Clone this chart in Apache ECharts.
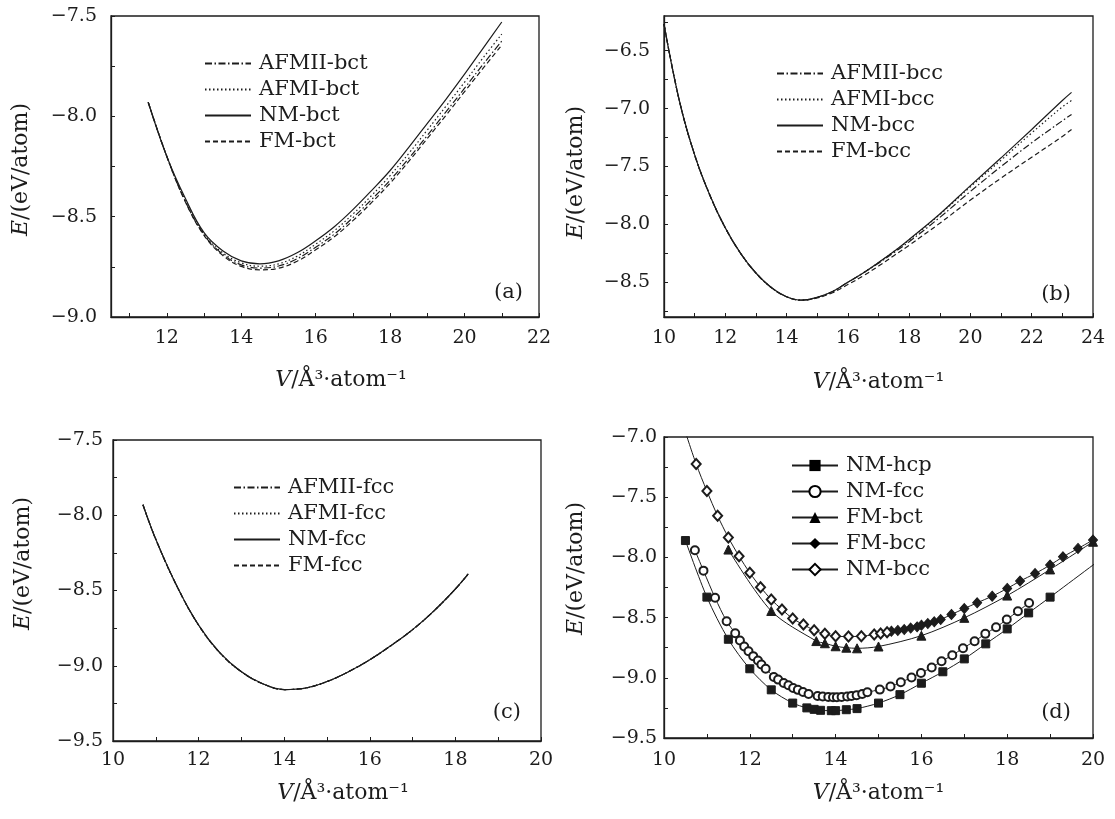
<!DOCTYPE html>
<html>
<head>
<meta charset="utf-8">
<script src="https://cdn.jsdelivr.net/npm/echarts@6/dist/echarts.min.js"></script>
<style>
  html, body { margin: 0; padding: 0; background: #fff; }
  .panel { position: absolute; left: 0; top: 0; width: 1115px; height: 819px; }
</style>
</head>
<body>
<div id="pa" class="panel"></div>
<div id="pb" class="panel"></div>
<div id="pc" class="panel"></div>
<div id="pd" class="panel"></div>
<script>
// ---- (a) bct ----
const aV = [11.5, 12, 12.5, 13, 13.5, 14, 14.5, 15, 15.5, 16, 16.5, 17, 17.5, 18, 18.5, 19, 19.5, 20, 20.5, 21];
const aAFMII = [-7.93, -8.20, -8.425, -8.59, -8.687, -8.74, -8.756, -8.746, -8.71, -8.652, -8.587, -8.505, -8.415, -8.318, -8.21, -8.095, -7.978, -7.86, -7.74, -7.625];
const aAFMI = [-7.93, -8.20, -8.422, -8.585, -8.68, -8.73, -8.747, -8.735, -8.697, -8.637, -8.57, -8.487, -8.395, -8.295, -8.185, -8.068, -7.95, -7.83, -7.708, -7.59];
const aNM = [-7.93, -8.20, -8.41, -8.58, -8.67, -8.72, -8.735, -8.72, -8.68, -8.62, -8.55, -8.465, -8.37, -8.27, -8.155, -8.035, -7.915, -7.79, -7.66, -7.53];
const aFM = [-7.93, -8.20, -8.427, -8.593, -8.693, -8.748, -8.765, -8.757, -8.722, -8.665, -8.6, -8.52, -8.43, -8.333, -8.225, -8.11, -7.995, -7.877, -7.76, -7.645];
const aXTicks = [11, 12, 13, 14, 15, 16, 17, 18, 19, 20, 21, 22];
const aXLabels = [12, 14, 16, 18, 20, 22];
const aYTicks = [-9, -8.75, -8.5, -8.25, -8, -7.75, -7.5];
const aYLabels = [-9, -8.5, -8, -7.5];

// ---- (b) bcc ----
const bV = [10, 10.5, 11, 11.5, 12, 12.5, 13, 13.5, 14, 14.5, 15, 15.5, 16, 16.5, 17, 17.5, 18, 19, 20, 21, 22, 23, 23.3];
const bAFMII = [-6.27, -6.93, -7.40, -7.75, -8.03, -8.25, -8.42, -8.545, -8.625, -8.655, -8.63, -8.58, -8.50, -8.42, -8.335, -8.245, -8.15, -7.94, -7.715, -7.50, -7.295, -7.105, -7.05];
const bAFMI = [-6.27, -6.93, -7.40, -7.75, -8.03, -8.25, -8.42, -8.545, -8.625, -8.655, -8.63, -8.58, -8.50, -8.42, -8.33, -8.235, -8.135, -7.915, -7.675, -7.445, -7.21, -6.985, -6.93];
const bNM = [-6.27, -6.93, -7.40, -7.75, -8.03, -8.25, -8.42, -8.545, -8.625, -8.655, -8.63, -8.58, -8.50, -8.42, -8.33, -8.235, -8.13, -7.91, -7.665, -7.425, -7.18, -6.93, -6.86];
const bFM = [-6.27, -6.93, -7.40, -7.75, -8.03, -8.25, -8.42, -8.545, -8.625, -8.655, -8.635, -8.59, -8.52, -8.445, -8.36, -8.27, -8.18, -7.99, -7.79, -7.60, -7.42, -7.24, -7.18];
const bXTicks = [10, 11, 12, 13, 14, 15, 16, 17, 18, 19, 20, 21, 22, 23, 24];
const bXLabels = [10, 12, 14, 16, 18, 20, 22, 24];
const bYTicks = [-8.75, -8.5, -8.25, -8, -7.75, -7.5, -7.25, -7, -6.75, -6.5, -6.25];
const bYLabels = [-8.5, -8, -7.5, -7, -6.5];

// ---- (c) fcc: the four magnetic states coincide ----
const cV = [10.7, 11, 11.5, 12, 12.5, 13, 13.5, 14, 14.5, 15, 15.5, 16, 16.5, 17, 17.5, 18, 18.3];
const cE = [-7.93, -8.16, -8.475, -8.73, -8.915, -9.04, -9.12, -9.158, -9.148, -9.105, -9.04, -8.96, -8.865, -8.76, -8.635, -8.49, -8.39];
const cXTicks = [10, 11, 12, 13, 14, 15, 16, 17, 18, 19, 20];
const cXLabels = [10, 12, 14, 16, 18, 20];
const cYTicks = [-9.5, -9.25, -9, -8.75, -8.5, -8.25, -8, -7.75, -7.5];
const cYLabels = [-9.5, -9, -8.5, -8, -7.5];

// ---- (d) lowest-energy states ----
const dHcpV = [10.5, 11, 11.5, 12, 12.5, 13, 13.33, 13.5, 13.65, 13.9, 14, 14.25, 14.5, 15, 15.5, 16, 16.5, 17, 17.5, 18, 18.5, 19, 20.5];
const dHcpE = [-7.86, -8.33, -8.68, -8.925, -9.1, -9.21, -9.25, -9.262, -9.27, -9.273, -9.273, -9.265, -9.256, -9.21, -9.14, -9.045, -8.95, -8.843, -8.718, -8.594, -8.461, -8.33, -7.93];
const dFccV = [10.72, 10.92, 11.19, 11.46, 11.66, 11.77, 11.87, 11.97, 12.08, 12.19, 12.27, 12.37, 12.56, 12.66, 12.79, 12.9, 13.01, 13.12, 13.24, 13.37, 13.58, 13.7, 13.83, 13.94, 14.03, 14.14, 14.27, 14.37, 14.49, 14.62, 14.74, 15.03, 15.28, 15.52, 15.77, 15.99, 16.24, 16.47, 16.72, 16.97, 17.24, 17.49, 17.74, 17.99, 18.25, 18.51];
const dFccE = [-7.94, -8.11, -8.335, -8.53, -8.63, -8.69, -8.74, -8.78, -8.82, -8.857, -8.89, -8.925, -8.993, -9.015, -9.043, -9.062, -9.084, -9.1, -9.118, -9.134, -9.151, -9.156, -9.159, -9.162, -9.162, -9.16, -9.156, -9.151, -9.145, -9.134, -9.12, -9.098, -9.073, -9.037, -8.998, -8.96, -8.915, -8.862, -8.813, -8.754, -8.696, -8.635, -8.58, -8.516, -8.447, -8.378];
const dBctV = [11.5, 12.5, 13.55, 13.75, 14, 14.25, 14.5, 15, 16, 17, 18, 19, 20];
const dBctE = [-7.935, -8.445, -8.695, -8.713, -8.738, -8.75, -8.755, -8.74, -8.65, -8.502, -8.317, -8.1, -7.87];
const dFmBccV = [15.3, 15.45, 15.6, 15.75, 15.9, 16.0, 16.15, 16.3, 16.45, 16.7, 17.0, 17.3, 17.65, 18.0, 18.3, 18.65, 19.0, 19.3, 19.65, 20.0];
const dFmBccE = [-8.613, -8.607, -8.599, -8.587, -8.577, -8.563, -8.55, -8.535, -8.516, -8.474, -8.425, -8.377, -8.322, -8.258, -8.197, -8.134, -8.064, -7.995, -7.926, -7.856];
const dNmBccV = [10.5, 10.75, 11, 11.25, 11.5, 11.75, 12, 12.25, 12.5, 12.75, 13, 13.25, 13.5, 13.75, 14, 14.3, 14.6, 14.9, 15.05, 15.2];
const dNmBccE = [-6.96, -7.225, -7.449, -7.655, -7.835, -7.99, -8.128, -8.247, -8.35, -8.433, -8.508, -8.558, -8.605, -8.635, -8.655, -8.657, -8.655, -8.641, -8.632, -8.621];
const dXTicks = [10, 11, 12, 13, 14, 15, 16, 17, 18, 19, 20];
const dXLabels = [10, 12, 14, 16, 18, 20];
const dYTicks = [-9.5, -9.25, -9, -8.75, -8.5, -8.25, -8, -7.75, -7.5, -7.25, -7];
const dYLabels = [-9.5, -9, -8.5, -8, -7.5, -7];

const FONT = 'DejaVu Serif';
const INK = '#1c1c1c';
const DASHDOT = [7, 2.5, 1.5, 2.5];
const DOTTED = [1.5, 2.5];
const DASHED = [5, 3];

const pairs = (xs, ys) => xs.map((x, i) => [x, ys[i]]);
const minus = (v) => v.toFixed(1).replace('-', '\u2212');

function axes(p) {
  const nameStyle = {
    color: INK, fontFamily: FONT, fontSize: 22,
    rich: { i: { fontStyle: 'italic', fontFamily: FONT, fontSize: 22, color: INK } }
  };
  const xAxis = {
    type: 'value', min: p.xMin, max: p.xMax,
    axisLine: { show: true, onZero: false, lineStyle: { color: INK, width: 1.3 } },
    axisTick: { show: true, inside: true, length: 4, customValues: p.xTicks, lineStyle: { color: INK, width: 1 } },
    axisLabel: { customValues: p.xLabels, margin: p.xMargin, color: INK, fontFamily: FONT, fontSize: 19 },
    splitLine: { show: false },
    name: '{i|V}/Å³·atom⁻¹',
    nameLocation: 'middle', nameGap: p.xNameGap, nameMoveOverlap: false,
    nameTextStyle: Object.assign({}, nameStyle, { padding: [0, 0, 0, p.xShift] })
  };
  const yAxis = {
    type: 'value', min: p.yMin, max: p.yMax,
    axisLine: { show: true, onZero: false, lineStyle: { color: INK, width: 1.3 } },
    axisTick: { show: true, inside: true, length: 4, customValues: p.yTicks, lineStyle: { color: INK, width: 1 } },
    axisLabel: { customValues: p.yLabels, margin: p.yMargin, color: INK, fontFamily: FONT, fontSize: 19, formatter: minus },
    splitLine: { show: false },
    name: '{i|E}/(eV/atom)',
    nameLocation: 'middle', nameGap: p.yNameGap, nameMoveOverlap: false,
    nameTextStyle: Object.assign({}, nameStyle, { padding: p.yPad })
  };
  return { xAxis, yAxis };
}

function curve(name, xs, ys, dash) {
  return {
    name, type: 'line', data: pairs(xs, ys), symbol: 'none', smooth: 0.4,
    lineStyle: { color: INK, width: 1.2, type: dash || 'solid' },
    itemStyle: { color: INK }
  };
}

function marked(name, xs, ys, symbol, size) {
  return {
    name, type: 'line', data: pairs(xs, ys), symbol, symbolSize: size, smooth: 0.3,
    lineStyle: { color: INK, width: 1 },
    itemStyle: { color: INK, borderColor: INK, borderWidth: 1 }
  };
}

function legend(p, names, hideIcon) {
  return {
    left: p.legLeft, top: p.legTop, orient: 'vertical', padding: 0,
    itemGap: 5, itemWidth: 46, itemHeight: 14,
    data: names,
    itemStyle: hideIcon ? { opacity: 0 } : undefined,
    textStyle: { color: INK, fontFamily: FONT, fontSize: 21, lineHeight: 20, padding: [0, 0, 0, 3] },
    selectedMode: false
  };
}

function panel(id, p, series, legendNames, hideIcon) {
  const chart = echarts.init(document.getElementById(id));
  const ax = axes(p);
  chart.setOption({
    animation: false,
    backgroundColor: 'transparent',
    grid: {
      left: p.left, top: p.top, width: p.width, height: p.height,
      show: true, borderColor: INK, borderWidth: 1.3, backgroundColor: 'transparent',
      containLabel: false, outerBoundsMode: 'none'
    },
    xAxis: ax.xAxis,
    yAxis: ax.yAxis,
    legend: legend(p, legendNames, hideIcon),
    graphic: [{
      type: 'text', x: p.tagX, y: p.tagY,
      style: { text: p.tag, fill: INK, font: '21px "DejaVu Serif"', align: 'right', verticalAlign: 'middle' }
    }],
    series
  });
}

panel('pa', {
  left: 111, top: 16, width: 428, height: 301,
  xMin: 10.5, xMax: 22, yMin: -9, yMax: -7.5,
  xTicks: aXTicks, xLabels: aXLabels, yTicks: aYTicks, yLabels: aYLabels,
  xMargin: 12, yMargin: 14, xNameGap: 52, yNameGap: 79, xShift: 32, yPad: [0, 6, 0, 0],
  legLeft: 204, legTop: 53, tag: '(a)', tagX: 523, tagY: 293
}, [
  curve('AFMII-bct', aV, aAFMII, DASHDOT),
  curve('AFMI-bct', aV, aAFMI, DOTTED),
  curve('NM-bct', aV, aNM),
  curve('FM-bct', aV, aFM, DASHED)
], ['AFMII-bct', 'AFMI-bct', 'NM-bct', 'FM-bct'], true);

panel('pb', {
  left: 664, top: 16, width: 429, height: 301,
  xMin: 10, xMax: 24, yMin: -8.8, yMax: -6.2,
  xTicks: bXTicks, xLabels: bXLabels, yTicks: bYTicks, yLabels: bYLabels,
  xMargin: 12, yMargin: 14, xNameGap: 54, yNameGap: 77, xShift: 0, yPad: [0, 12, 0, 0],
  legLeft: 776, legTop: 63, tag: '(b)', tagX: 1071, tagY: 295
}, [
  curve('AFMII-bcc', bV, bAFMII, DASHDOT),
  curve('AFMI-bcc', bV, bAFMI, DOTTED),
  curve('NM-bcc', bV, bNM),
  curve('FM-bcc', bV, bFM, DASHED)
], ['AFMII-bcc', 'AFMI-bcc', 'NM-bcc', 'FM-bcc'], true);

panel('pc', {
  left: 113, top: 440, width: 428, height: 301,
  xMin: 10, xMax: 20, yMin: -9.5, yMax: -7.5,
  xTicks: cXTicks, xLabels: cXLabels, yTicks: cYTicks, yLabels: cYLabels,
  xMargin: 10, yMargin: 10, xNameGap: 41, yNameGap: 79, xShift: 32, yPad: [0, 0, 0, 54],
  legLeft: 233, legTop: 477, tag: '(c)', tagX: 521, tagY: 713
}, [
  curve('AFMII-fcc', cV, cE, DASHDOT),
  curve('AFMI-fcc', cV, cE, DOTTED),
  curve('NM-fcc', cV, cE),
  curve('FM-fcc', cV, cE, DASHED)
], ['AFMII-fcc', 'AFMI-fcc', 'NM-fcc', 'FM-fcc'], true);

panel('pd', {
  left: 664, top: 437, width: 429, height: 301,
  xMin: 10, xMax: 20, yMin: -9.5, yMax: -7,
  xTicks: dXTicks, xLabels: dXLabels, yTicks: dYTicks, yLabels: dYLabels,
  xMargin: 13, yMargin: 7, xNameGap: 44, yNameGap: 77, xShift: 0, yPad: [0, 0, 0, 38],
  legLeft: 791, legTop: 455, tag: '(d)', tagX: 1071, tagY: 713
}, [
  marked('NM-hcp', dHcpV, dHcpE, 'rect', 8),
  marked('NM-fcc', dFccV, dFccE, 'emptyCircle', 8),
  marked('FM-bct', dBctV, dBctE, 'triangle', 9),
  marked('FM-bcc', dFmBccV, dFmBccE, 'diamond', [9, 10]),
  marked('NM-bcc', dNmBccV, dNmBccE, 'emptyDiamond', [9, 10])
], ['NM-hcp', 'NM-fcc', 'FM-bct', 'FM-bcc', 'NM-bcc'], false);
</script>
</body>
</html>
